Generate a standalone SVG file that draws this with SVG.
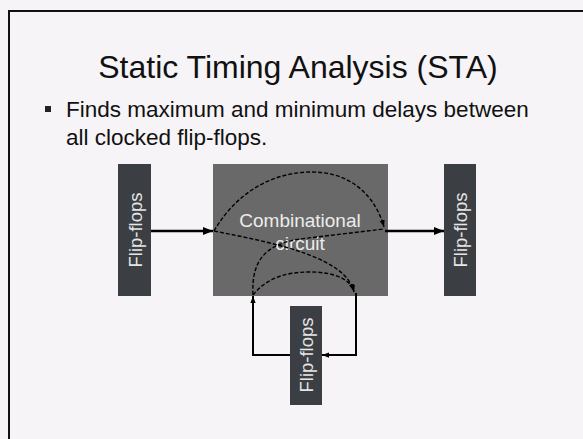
<svg xmlns="http://www.w3.org/2000/svg" width="583" height="439" viewBox="0 0 583 439">
  <defs>
    <style>
      .title { font-family: "Liberation Sans", Arial, sans-serif; font-size: 32px; fill: #111; }
      .body { font-family: "Liberation Sans", Arial, sans-serif; font-size: 22.5px; fill: #111; }
      .ff { fill: #3b3f44; }
      .ff-label { font-family: "Liberation Sans", Arial, sans-serif; font-size: 18.5px; fill: #e6e6e6; text-anchor: middle; }
      .comb { fill: #696969; }
      .comb-label { font-family: "Liberation Sans", Arial, sans-serif; font-size: 19px; fill: #ececec; text-anchor: middle; }
      .wire { fill: none; stroke: #000; stroke-width: 2.5; }
      .loop { fill: none; stroke: #000; stroke-width: 2; }
      .path { fill: none; stroke: #000; stroke-width: 1.4; stroke-dasharray: 4 2; }
    </style>
    <marker id="arrow" viewBox="0 0 10 8" refX="10" refY="4" markerWidth="10" markerHeight="8" markerUnits="userSpaceOnUse" orient="auto">
      <path d="M0,0 L10,4 L0,8 Z" fill="#000"/>
    </marker>
    <marker id="arrow-sm" viewBox="0 0 8 6" refX="8" refY="3" markerWidth="7" markerHeight="6" markerUnits="userSpaceOnUse" orient="auto">
      <path d="M0,0 L8,3 L0,6 Z" fill="#000"/>
    </marker>
  </defs>

  <!-- slide background and frame -->
  <rect x="0" y="0" width="583" height="439" fill="#f6f4f6"/>
  <rect x="9" y="11" width="600" height="460" fill="none" stroke="#111" stroke-width="2"/>

  <!-- heading and bullet -->
  <text class="title" x="298" y="78" text-anchor="middle">Static Timing Analysis (STA)</text>
  <rect x="45" y="106" width="6" height="6" fill="#222"/>
  <text class="body" x="66" y="117">Finds maximum and minimum delays between</text>
  <text class="body" x="66" y="145">all clocked flip-flops.</text>

  <!-- nodes -->
  <g id="ff-left">
    <rect class="ff" x="118" y="164" width="33" height="132"/>
    <text class="ff-label" transform="translate(135,230) rotate(-90)" y="6.5">Flip-flops</text>
  </g>
  <g id="comb-circuit">
    <rect class="comb" x="213" y="164" width="175" height="132"/>
    <text class="comb-label" x="300" y="227">Combinational</text>
    <text class="comb-label" x="300" y="250">circuit</text>
  </g>
  <g id="ff-right">
    <rect class="ff" x="444" y="164" width="32" height="132"/>
    <text class="ff-label" transform="translate(460,230) rotate(-90)" y="6.5">Flip-flops</text>
  </g>
  <g id="ff-bottom">
    <rect class="ff" x="290" y="306" width="32" height="99"/>
    <text class="ff-label" transform="translate(306,355) rotate(-90)" y="6.5">Flip-flops</text>
  </g>

  <!-- connectors -->
  <g id="connectors">
    <path class="wire" d="M151,231 L213,231" marker-end="url(#arrow)"/>
    <path class="wire" d="M385,231 L444,231" marker-end="url(#arrow)"/>
    <path class="loop" d="M290,355 L253,355 L253,296" marker-end="url(#arrow-sm)"/>
    <path class="loop" d="M356,293 L356,355 L322,355" marker-end="url(#arrow-sm)"/>

    <!-- timing paths through the combinational logic -->
    <path class="path" d="M214,231 C238,190 275,172 312,172 C350,172 375,195 384,227" marker-end="url(#arrow-sm)"/>
    <path class="path" d="M214,231 C280,244 346,258 354,292" marker-end="url(#arrow-sm)"/>
    <path class="path" d="M253,295 C268,276 290,272 310,272 C336,272 350,280 354,291" marker-end="url(#arrow-sm)"/>
    <path class="path" d="M253,295 C251,258 268,244 300,239 L384,229"/>
  </g>
</svg>
